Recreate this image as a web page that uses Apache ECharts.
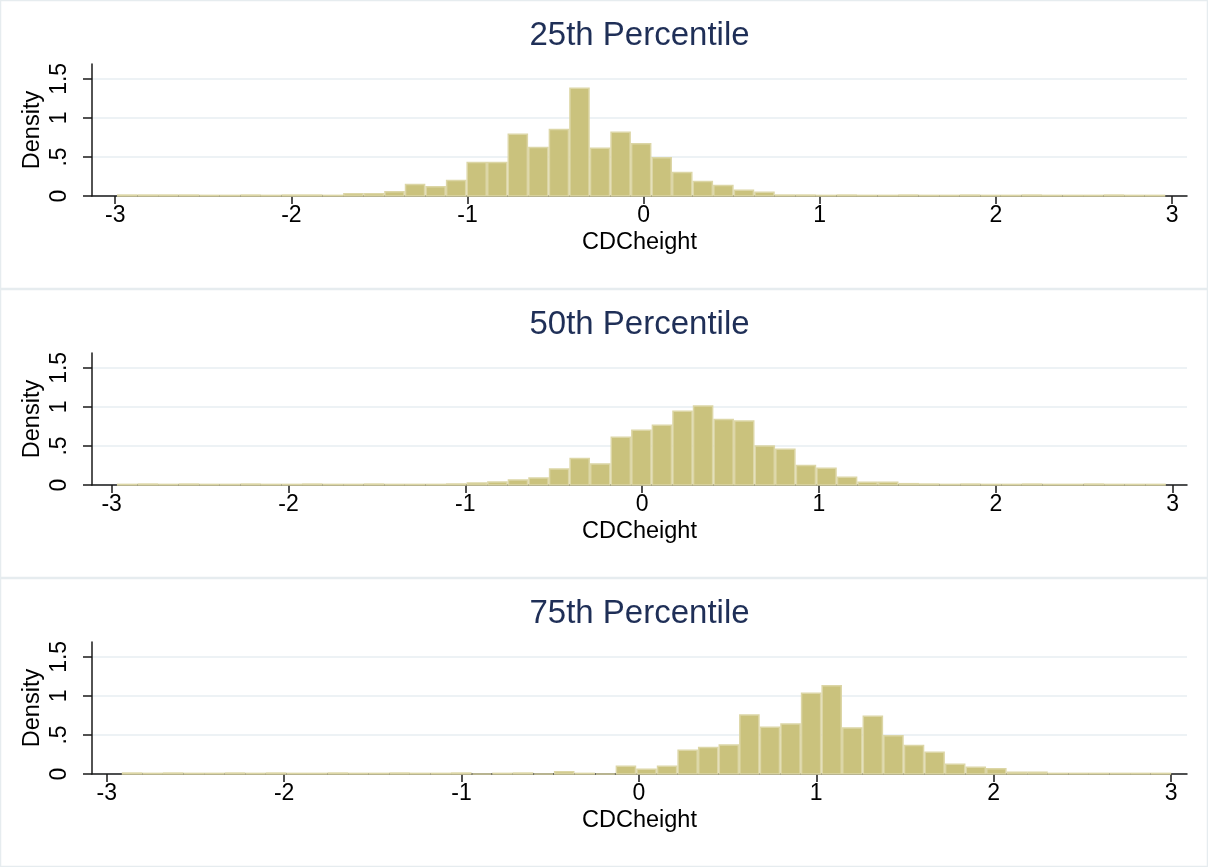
<!DOCTYPE html>
<html>
<head>
<meta charset="utf-8">
<script src="https://cdn.jsdelivr.net/npm/echarts@6/dist/echarts.min.js"></script>
<style>html,body{margin:0;padding:0;background:#fff;}#chart{width:1208px;height:867px;}</style>
</head>
<body>
<div id="chart"></div>
<script>
// Panel titles
const panelTitles = ['25th Percentile', '50th Percentile', '75th Percentile'];
const xAxisTitle = 'CDCheight';
const yAxisTitle = 'Density';
const xTickValues = [-3, -2, -1, 0, 1, 2, 3];
const yTickValues = [0, 0.5, 1, 1.5];

// Histogram bins: left edge of first bin and bin width (51 bins per panel)
const binStart = [-2.99, -2.97, -2.915];
const binWidth = [0.1167, 0.1163, 0.116];

// Density per bin
const density25 = [
  0.012, 0.012, 0.012, 0.012, 0.008, 0.008, 0.012, 0.008, 0.012, 0.012,
  0.008, 0.03, 0.03, 0.056, 0.146, 0.12, 0.20, 0.43, 0.43, 0.79,
  0.62, 0.85, 1.38, 0.61, 0.815, 0.67, 0.49, 0.30, 0.185, 0.133,
  0.073, 0.047, 0.012, 0.012, 0.008, 0.012, 0.008, 0.008, 0.012, 0.008,
  0.008, 0.012, 0.008, 0.008, 0.012, 0.008, 0.008, 0.008, 0.012, 0.008,
  0.008
];
const density50 = [
  0.008, 0.012, 0.008, 0.012, 0.008, 0.008, 0.012, 0.008, 0.008, 0.012,
  0.008, 0.008, 0.012, 0.008, 0.008, 0.008, 0.013, 0.026, 0.038, 0.064,
  0.09, 0.205, 0.34, 0.27, 0.61, 0.70, 0.765, 0.944, 1.01, 0.84,
  0.82, 0.50, 0.457, 0.25, 0.214, 0.098, 0.034, 0.034, 0.017, 0.012,
  0.008, 0.012, 0.008, 0.008, 0.012, 0.008, 0.008, 0.012, 0.008, 0.008,
  0.008
];
const density75 = [
  0.012, 0.008, 0.012, 0.008, 0.008, 0.012, 0.008, 0.012, 0.008, 0.008,
  0.012, 0.008, 0.008, 0.012, 0.008, 0.008, 0.012, 0, 0.008, 0.012,
  0, 0.03, 0.008, 0, 0.099, 0.06, 0.099, 0.305, 0.34, 0.37,
  0.755, 0.60, 0.64, 1.034, 1.13, 0.59, 0.74, 0.49, 0.365, 0.28,
  0.125, 0.085, 0.068, 0.024, 0.022, 0.008, 0.008, 0.008, 0.008, 0.008,
  0.008
];
const densities = [density25, density50, density75];

// Axis extents
const xMin = [-3.132, -3.111, -3.083];
const xMax = [3.085, 3.081, 3.09];
const yMax = 1.69;

const FONT = "'Liberation Sans', Arial, sans-serif";
const panelH = 289;
const gridTop0 = 64;
const gridH = 132;
const gridLeft = 92;
const gridRight = 21;

const chart = echarts.init(document.getElementById('chart'), null, {renderer: 'canvas'});

function renderItem(params, api) {
  const x0 = api.value(0), x1 = api.value(1), y = api.value(2);
  const p0 = api.coord([x0, y]);
  const p1 = api.coord([x1, 0]);
  return {
    type: 'rect',
    shape: {x: p0[0] + 0.75, y: p0[1], width: p1[0] - p0[0] - 1.5, height: p1[1] - p0[1]},
    style: {fill: '#cac27d', stroke: '#dcd6a6', lineWidth: 1.5}
  };
}

const grids = [], xAxes = [], yAxes = [], series = [], graphics = [];
for (let i = 0; i < 3; i++) {
  grids.push({left: gridLeft, right: gridRight, top: gridTop0 + panelH * i, height: gridH, containLabel: false});
  xAxes.push({
    type: 'value', gridIndex: i, min: xMin[i], max: xMax[i],
    name: xAxisTitle, nameLocation: 'middle', nameGap: 35,
    nameTextStyle: {fontFamily: FONT, fontSize: 23.5, color: '#000'},
    axisLine: {show: true, onZero: false, lineStyle: {color: '#1a1a1a', width: 1.5}},
    axisTick: {show: true, length: 8, customValues: xTickValues, lineStyle: {color: '#1a1a1a', width: 1.5}},
    axisLabel: {show: true, customValues: xTickValues, margin: 8, fontFamily: FONT, fontSize: 23, color: '#000',
      formatter: v => String(v)},
    splitLine: {show: false}
  });
  yAxes.push({
    type: 'value', gridIndex: i, min: 0, max: yMax,
    name: yAxisTitle, nameLocation: 'middle', nameGap: 47, nameRotate: 90, nameMoveOverlap: false,
    nameTextStyle: {fontFamily: FONT, fontSize: 23.5, color: '#000'},
    axisLine: {show: true, onZero: false, lineStyle: {color: '#1a1a1a', width: 1.5}},
    axisTick: {show: true, length: 9, customValues: yTickValues, lineStyle: {color: '#1a1a1a', width: 1.5}},
    axisLabel: {show: true, customValues: yTickValues, rotate: 90, margin: 21, fontFamily: FONT, fontSize: 23, color: '#000',
      formatter: v => v === 0 ? '0' : String(v).replace(/^0\./, '.')},
    splitLine: {show: true, lineStyle: {color: '#e7eef2', width: 1.5}}
  });
  const start = binStart[i], w = binWidth[i];
  series.push({
    type: 'custom', xAxisIndex: i, yAxisIndex: i,
    renderItem: renderItem,
    encode: {x: [0, 1], y: 2},
    data: densities[i].map((v, k) => [start + k * w, start + (k + 1) * w, v]),
    z: 3
  });
  graphics.push({
    type: 'rect', shape: {x: 0.5, y: panelH * i + 0.5, width: 1207, height: panelH - 1},
    style: {fill: 'none', stroke: '#e6ecef', lineWidth: 1.5}, z: -1
  });
  graphics.push({
    type: 'text', x: 639.5, y: 36 + panelH * i,
    style: {text: panelTitles[i], fontFamily: FONT, fontSize: 33, fill: '#1f2f57', align: 'center', verticalAlign: 'middle'}
  });
}

chart.setOption({
  backgroundColor: '#ffffff',
  animation: false,
  grid: grids,
  xAxis: xAxes,
  yAxis: yAxes,
  series: series,
  graphic: graphics
});
</script>
</body>
</html>
